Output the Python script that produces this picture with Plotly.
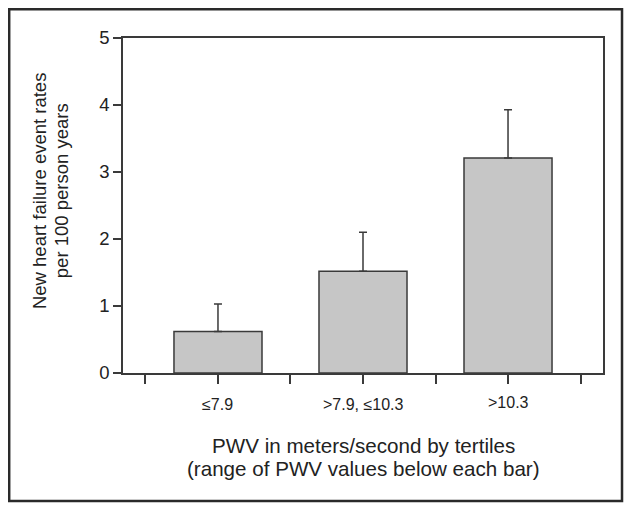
import plotly.graph_objects as go

categories = ["≤7.9", ">7.9, ≤10.3", ">10.3"]
rates = [0.62, 1.52, 3.21]
upper_ci = [1.03, 2.10, 3.93]
x_pos = [0, 1, 2]
tick_positions = [-0.5, 0, 0.5, 1, 1.5, 2, 2.5]
y_ticks = [0, 1, 2, 3, 4, 5]
x_title_lines = ["PWV in meters/second by tertiles", "(range of PWV values below each bar)"]
y_title_lines = ["New heart failure event rates", "per 100 person years"]

FONT = "Liberation Sans, Arial, sans-serif"
DARK = "#3a3a3a"
TXT = "#222222"

fig = go.Figure()
fig.add_trace(go.Bar(
    x=x_pos, y=rates, width=0.607,
    marker=dict(color="#c6c6c6", line=dict(color=DARK, width=1.5)),
    error_y=dict(type="data", symmetric=False,
                 array=[u - r for u, r in zip(upper_ci, rates)],
                 arrayminus=[0, 0, 0],
                 color=DARK, thickness=1.5, width=4),
    showlegend=False,
))

# category labels below the axis
label_y = [-0.095, -0.095, -0.087]
for xp, lab, ly in zip(x_pos, categories, label_y):
    fig.add_annotation(x=xp, xref="x", y=ly, yref="paper", text=lab, showarrow=False,
                       font=dict(size=16, color=TXT, family=FONT), yanchor="middle")

# x axis title (two lines)
for txt, yy in zip(x_title_lines, [-0.215, -0.2836]):
    fig.add_annotation(x=0.5, xref="paper", y=yy, yref="paper", text=txt, showarrow=False,
                       font=dict(size=20.6, color=TXT, family=FONT), yanchor="middle")

# y axis title (two lines, rotated)
for txt, xx in zip(y_title_lines, [-0.175, -0.129]):
    fig.add_annotation(x=xx, xref="paper", y=0.543, yref="paper", text=txt, showarrow=False,
                       textangle=-90, font=dict(size=18.5, color=TXT, family=FONT),
                       xanchor="center", yanchor="middle")

fig.update_layout(
    width=624, height=502,
    margin=dict(l=115, r=29, t=30, b=137),
    paper_bgcolor="white", plot_bgcolor="white",
    font=dict(family=FONT, color=TXT),
    xaxis=dict(range=[-0.655, 2.655], tickvals=tick_positions,
               ticktext=[""] * len(tick_positions),
               ticks="outside", ticklen=9, tickcolor=DARK, tickwidth=1.5,
               showline=True, linecolor=DARK, linewidth=1.5, mirror=True,
               showgrid=False, zeroline=False),
    yaxis=dict(range=[0, 5], tickvals=y_ticks, ticks="outside", ticklen=8,
               tickcolor=DARK, tickwidth=1.5,
               showline=True, linecolor=DARK, linewidth=1.5, mirror=True,
               showgrid=False, zeroline=False,
               tickfont=dict(size=18.5, family=FONT, color=TXT)),
    shapes=[dict(type="rect", xref="paper", yref="paper",
                 x0=-0.2371, x1=1.0396, y0=-0.382, y1=1.086,
                 line=dict(color="#2a2a2a", width=2.5))],
)

fig.write_html("out.html")
